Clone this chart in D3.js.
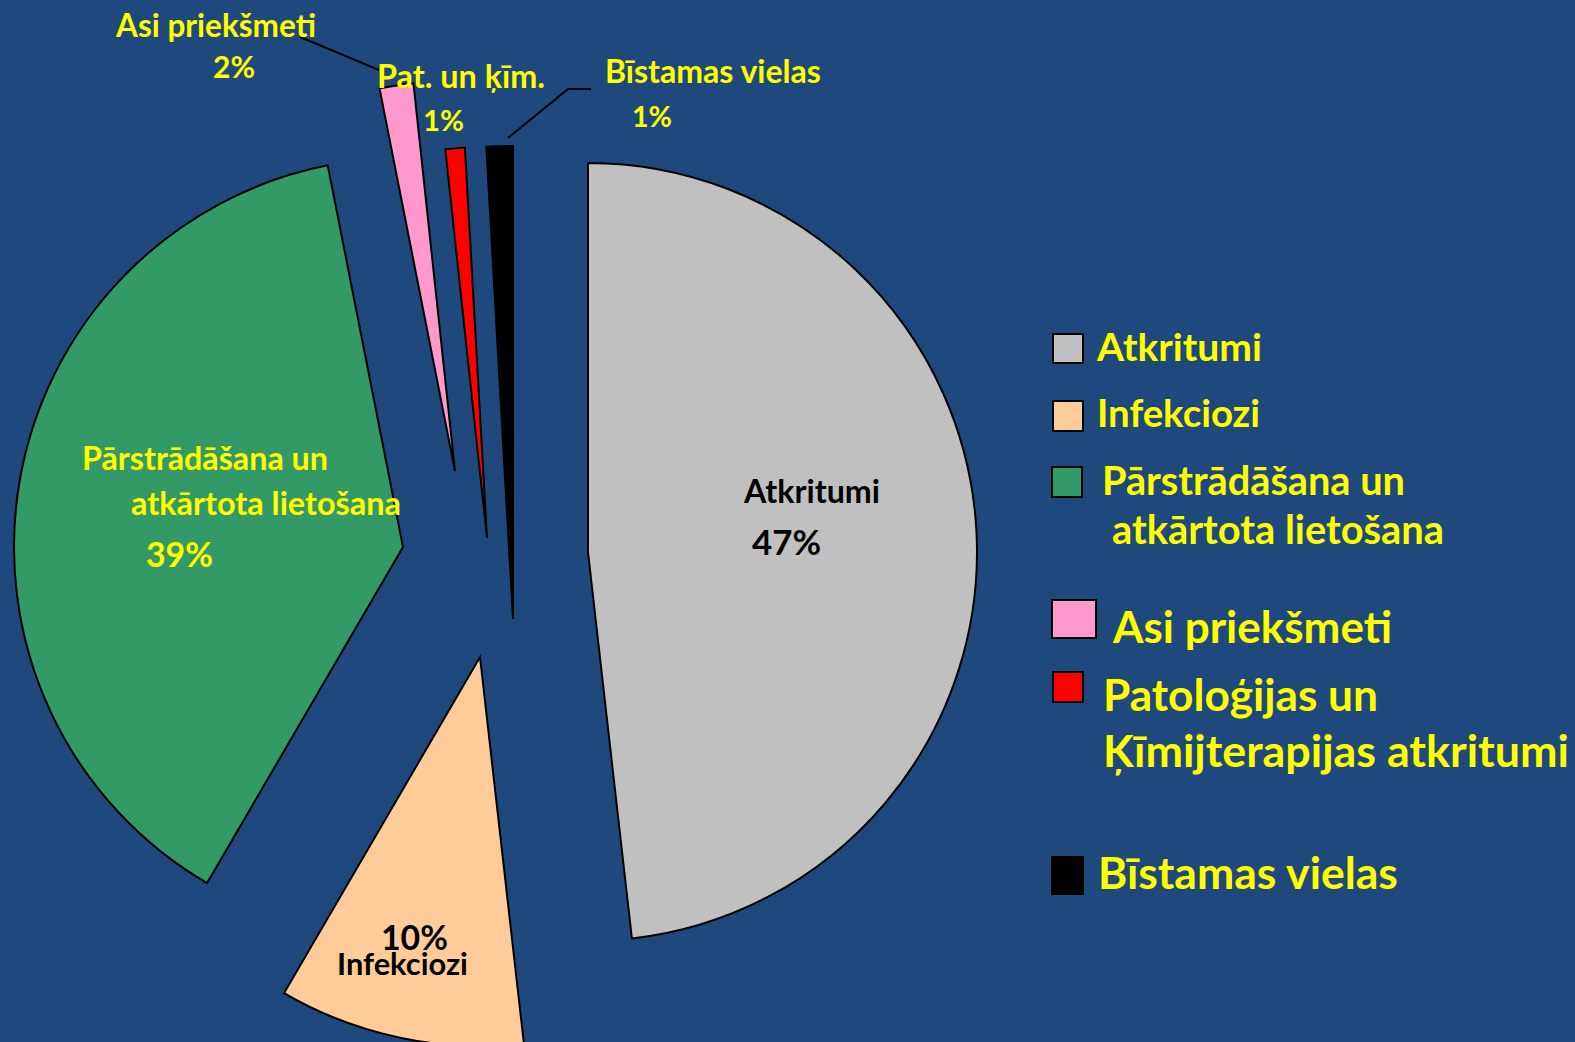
<!DOCTYPE html>
<html>
<head>
<meta charset="utf-8">
<script src="https://cdn.jsdelivr.net/npm/d3@7"></script>
<style>
  body { margin: 0; background: #1f497d; }
  svg { display: block; }
  text { font-family: Lato, "Open Sans", sans-serif; font-weight: bold; }
</style>
</head>
<body>
<svg id="chart" width="1575" height="1042"></svg>
<script>
// data (slice shares from the drawn angles, labels as printed)
const categories = ["Atkritumi", "Infekciozi", "Pārstrādāšana un atkārtota lietošana",
  "Asi priekšmeti", "Patoloģijas un Ķīmijterapijas atkritumi", "Bīstamas vielas"];
const shares = [48.2, 10.2, 38.5, 1.4, 0.8, 0.9];
const percentLabels = ["47%", "10%", "39%", "2%", "1%", "1%"];
const sliceNames = [["Atkritumi"], ["Infekciozi"], ["Pārstrādāšana un", "atkārtota lietošana"],
  ["Asi priekšmeti"], ["Pat. un ķīm."], ["Bīstamas vielas"]];
const legendLines = [["Atkritumi"], ["Infekciozi"], ["Pārstrādāšana un", "atkārtota lietošana"],
  ["Asi priekšmeti"], ["Patoloģijas un", "Ķīmijterapijas atkritumi"], ["Bīstamas vielas"]];
const colors = ["#c0c0c0", "#ffcc99", "#339966", "#ff99cc", "#ff0000", "#000000"];

// layout: where each exploded slice's tip sits, and its radius
const tips = [[588, 552], [480, 657], [403, 547], [455, 471], [487, 538], [513, 619]];
const radii = [389, 389, 389, 390, 391, 473];

// label spots [x, baseline, width]
const pieLabelPos = [
  { name: [[744, 503, 136]], pct: [752, 555, 69], fill: "#000" },
  { name: [[337, 975, 131]], pct: [381, 950, 67], fill: "#000" },
  { name: [[82, 470, 246], [131, 515, 270]], pct: [146, 567, 67], fill: "#ffff00" },
  { name: [[116, 37, 200]], pct: [213, 78, 42], fill: "#ffff00" },
  { name: [[377, 88, 168]], pct: [423, 131, 41], fill: "#ffff00" },
  { name: [[605, 83, 216]], pct: [632, 127, 40], fill: "#ffff00" }
];
const leaders = [
  [[300, 37], [379, 70]],
  [[508, 138], [568, 89], [591, 89]]
];
const legendBoxes = [[1053, 334, 30, 29], [1053, 401, 30, 30], [1052, 467, 30, 30],
  [1052, 600, 44, 38], [1053, 672, 30, 30], [1052, 857, 31, 37]];
const legendPos = [[[1097, 361, 165]], [[1097, 427, 163]], [[1102, 495, 303], [1112, 544, 332]],
  [[1113, 643, 279]], [[1103, 711, 275], [1103, 767, 466]], [[1098, 889, 300]]];

const svg = d3.select("#chart");

// set font size so the text spans the wanted width
function fitText(sel, width) {
  sel.attr("font-size", 30);
  const len = sel.node().getComputedTextLength();
  sel.attr("font-size", (30 * width) / len);
}

const pie = d3.pie().sort(null).value((d) => d);
const arcs = pie(shares);

svg
  .append("g")
  .selectAll("path")
  .data(arcs)
  .join("path")
  .attr("transform", (d, i) => `translate(${tips[i][0]}, ${tips[i][1]})`)
  .attr("d", (d, i) => d3.arc().innerRadius(0).outerRadius(radii[i])(d))
  .attr("fill", (d, i) => colors[i])
  .attr("stroke", "#000")
  .attr("stroke-width", 2)
  .attr("stroke-linejoin", "miter");

svg
  .append("g")
  .selectAll("path")
  .data(leaders)
  .join("path")
  .attr("d", d3.line())
  .attr("fill", "none")
  .attr("stroke", "#000")
  .attr("stroke-width", 2);

// slice labels
const labelG = svg.append("g");
pieLabelPos.forEach((pos, i) => {
  sliceNames[i].forEach((line, j) => {
    const [x, y, w] = pos.name[j];
    const t = labelG.append("text").attr("x", x).attr("y", y).attr("fill", pos.fill).text(line);
    fitText(t, w);
  });
  const [x, y, w] = pos.pct;
  const t = labelG.append("text").attr("x", x).attr("y", y).attr("fill", pos.fill).text(percentLabels[i]);
  fitText(t, w);
});

// legend
const legend = svg.append("g");
categories.forEach((c, i) => {
  const [x, y, w, h] = legendBoxes[i];
  legend
    .append("rect")
    .attr("x", x)
    .attr("y", y)
    .attr("width", w)
    .attr("height", h)
    .attr("fill", colors[i])
    .attr("stroke", "#000")
    .attr("stroke-width", 2);
  legendLines[i].forEach((line, j) => {
    const [tx, ty, tw] = legendPos[i][j];
    const t = legend.append("text").attr("x", tx).attr("y", ty).attr("fill", "#ffff00").text(line);
    fitText(t, tw);
  });
});
</script>
</body>
</html>
